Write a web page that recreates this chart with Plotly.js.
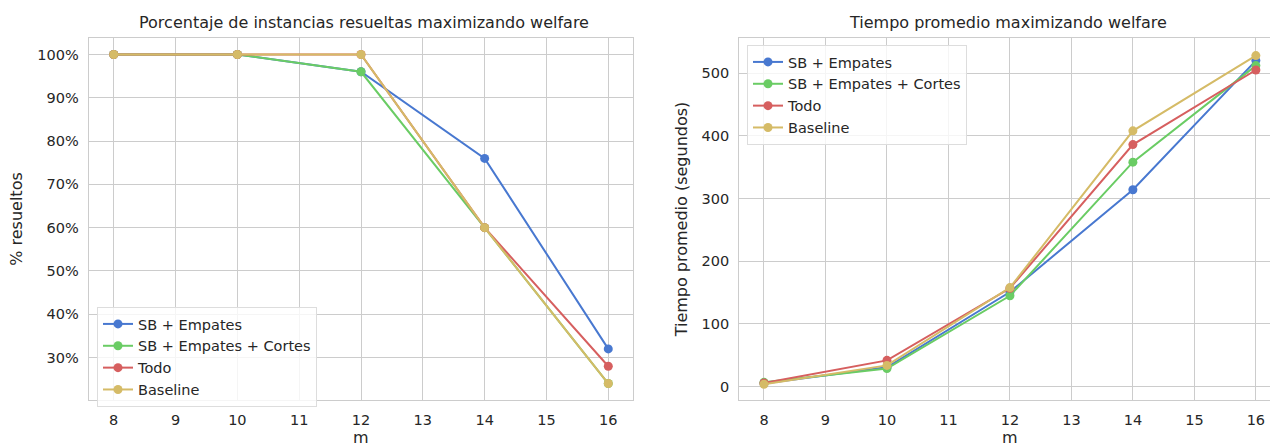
<!DOCTYPE html>
<html>
<head>
<meta charset="utf-8">
<script src="https://cdn.plot.ly/plotly-3.0.1.min.js"></script>
<style>html,body{margin:0;padding:0;background:#fff;}#chart{width:1270px;height:443px;}</style>
</head>
<body>
<div id="chart"></div>
<script>
const m = [8, 10, 12, 14, 16];
const seriesNames = ["SB + Empates", "SB + Empates + Cortes", "Todo", "Baseline"];
const colors = ["#4878D0", "#6ACC64", "#D65F5F", "#D5BB67"];

// % resueltos
const pctSB = [100, 100, 96, 76, 32];
const pctCortes = [100, 100, 96, 60, 24];
const pctTodo = [100, 100, 100, 60, 28];
const pctBaseline = [100, 100, 100, 60, 24];

// Tiempo promedio (segundos)
const tSB = [5, 31, 151, 314, 520];
const tCortes = [7, 29, 145, 358, 512];
const tTodo = [6, 42, 157, 386, 505];
const tBaseline = [4, 34, 158, 408, 528];

const pctSeries = [pctSB, pctCortes, pctTodo, pctBaseline];
const tSeries = [tSB, tCortes, tTodo, tBaseline];

const xTicks = [8, 9, 10, 11, 12, 13, 14, 15, 16];
const pctTicks = [30, 40, 50, 60, 70, 80, 90, 100];
const pctTickText = ["30%", "40%", "50%", "60%", "70%", "80%", "90%", "100%"];
const tTicks = [0, 100, 200, 300, 400, 500];

const FONT = "DejaVu Sans, sans-serif";
const TXT = "#262626";
const GRID = "#cccccc";

const traces = [];
pctSeries.forEach((ys, i) => {
  traces.push({
    x: m, y: ys, name: seriesNames[i], type: "scatter", mode: "lines+markers",
    line: {color: colors[i], width: 2}, marker: {color: colors[i], size: 9},
    xaxis: "x", yaxis: "y", legend: "legend"
  });
});
tSeries.forEach((ys, i) => {
  traces.push({
    x: m, y: ys, name: seriesNames[i], type: "scatter", mode: "lines+markers",
    line: {color: colors[i], width: 2}, marker: {color: colors[i], size: 9},
    xaxis: "x2", yaxis: "y2", legend: "legend2"
  });
});

const axBase = {
  showgrid: true, gridcolor: GRID, gridwidth: 1,
  showline: true, linecolor: GRID, linewidth: 1.3,
  zeroline: false, ticks: "outside", ticklen: 6, tickcolor: "rgba(0,0,0,0)",
  tickfont: {family: FONT, size: 14.5, color: TXT}, automargin: false
};
const titleFont = {family: FONT, size: 16, color: TXT};

const layout = {
  width: 1270, height: 443,
  margin: {l: 0, r: 0, t: 0, b: 0},
  paper_bgcolor: "#ffffff", plot_bgcolor: "#ffffff",
  font: {family: FONT, color: TXT},
  showlegend: true,
  xaxis: Object.assign({}, axBase, {
    domain: [89/1270, 633/1270], range: [7.6, 16.4], tickvals: xTicks, mirror: true,
    anchor: "y"
  }),
  yaxis: Object.assign({}, axBase, {
    domain: [43/443, 405/443], range: [20.2, 103.8], tickmode: "array", tickvals: pctTicks, ticktext: pctTickText, mirror: true,
    anchor: "x",
    title: {text: "% resueltos", font: titleFont, standoff: 10}
  }),
  xaxis2: Object.assign({}, axBase, {
    domain: [739.4/1270, 1], range: [7.6, 16.23], tickvals: xTicks, mirror: true,
    anchor: "y2"
  }),
  yaxis2: Object.assign({}, axBase, {
    domain: [43/443, 405/443], range: [-21.2, 556], tickvals: tTicks, mirror: false,
    anchor: "x2",
    title: {text: "Tiempo promedio (segundos)", font: titleFont, standoff: 10}
  }),
  legend: {
    x: 97/1270, y: (443-307)/443, xanchor: "left", yanchor: "top",
    bgcolor: "rgba(255,255,255,0.8)", bordercolor: "#dddddd", borderwidth: 1,
    font: {family: FONT, size: 14.5, color: TXT}, tracegroupgap: 0
  },
  legend2: {
    x: 747/1270, y: (443-45)/443, xanchor: "left", yanchor: "top",
    bgcolor: "rgba(255,255,255,0.8)", bordercolor: "#dddddd", borderwidth: 1,
    font: {family: FONT, size: 14.5, color: TXT}, tracegroupgap: 0
  },
  annotations: [
    {text: "Porcentaje de instancias resueltas maximizando welfare", xref: "paper", yref: "paper",
     x: 364/1270, y: (443-22)/443, xanchor: "center", yanchor: "middle", showarrow: false,
     font: {family: FONT, size: 16, color: TXT}},
    {text: "Tiempo promedio maximizando welfare", xref: "paper", yref: "paper",
     x: 1008/1270, y: (443-22)/443, xanchor: "center", yanchor: "middle", showarrow: false,
     font: {family: FONT, size: 16, color: TXT}},
    {text: "m", xref: "x domain", yref: "paper", x: 0.5, y: 6/443,
     xanchor: "center", yanchor: "middle", showarrow: false, font: titleFont},
    {text: "m", xref: "x2", yref: "paper", x: 12, y: 6/443,
     xanchor: "center", yanchor: "middle", showarrow: false, font: titleFont}
  ]
};

Plotly.newPlot("chart", traces, layout, {displayModeBar: false, staticPlot: true});
</script>
</body>
</html>
